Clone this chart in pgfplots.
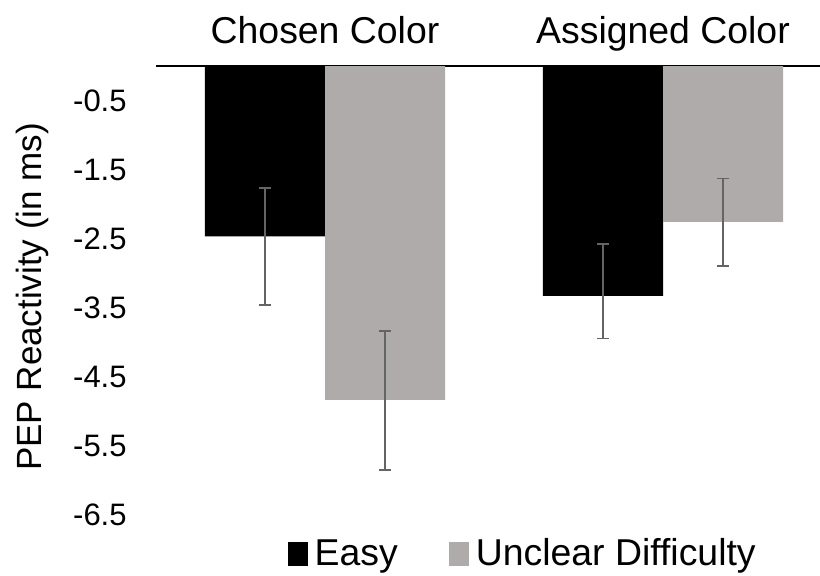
\documentclass[border=0pt]{standalone}
\usepackage{pgfplots}
\pgfplotsset{compat=1.18}
\usepackage{fontspec}
\setmainfont{Liberation Sans}
\definecolor{bargray}{RGB}{175,171,171}
\definecolor{errcol}{RGB}{100,100,100}
\newcommand{\tickfont}{\fontsize{15.5pt}{18pt}\selectfont}
\newcommand{\catfont}{\fontsize{18.7pt}{22pt}\selectfont}
\newcommand{\labfont}{\fontsize{17.5pt}{21pt}\selectfont}
\begin{document}
\begin{tikzpicture}
\useasboundingbox (0,0) rectangle (410pt,288pt);
\begin{axis}[
  at={(78pt,13.5pt)}, anchor=south west,
  scale only axis, width=332pt, height=241.5pt,
  xmin=-0.5, xmax=1.4645, ymin=-7, ymax=0,
  axis x line*=top, axis y line*=left,
  x axis line style={-, black, line width=1pt},
  y axis line style={draw=none},
  xtick={0,1}, xticklabels={Chosen Color, Assigned Color},
  ytick={-0.5,-1.5,-2.5,-3.5,-4.5,-5.5,-6.5},
  yticklabels={-0.5,-1.5,-2.5,-3.5,-4.5,-5.5,-6.5},
  major tick length=0pt,
  xticklabel style={font=\catfont, anchor=base, inner sep=0pt},
  xticklabel shift=11.5pt,
  yticklabel style={font=\tickfont, inner sep=0pt, anchor=east},
  yticklabel shift=14.5pt,
  ylabel={PEP Reactivity (in ms)},
  every axis y label/.style={at={(axis description cs:-0.186,0.522)}, rotate=90, anchor=center, font=\labfont},
  ybar, bar width=60pt,
  legend columns=2,
  legend cell align=left,
  legend style={at={(axis description cs:0.556,-0.01)}, anchor=center, draw=none, fill=none, font=\catfont,
    nodes={inner xsep=3.5pt},
    /tikz/every even column/.append style={column sep=22pt}},
  legend image code/.code={\fill (0pt,-6pt) rectangle (10pt,6pt);},
  error bars/y dir=both, error bars/y explicit,
  error bars/error bar style={draw=errcol, line width=0.9pt},
  error bars/error mark options={draw=errcol, line width=0.9pt, mark size=3pt, rotate=90},
]
\addplot[fill=black, draw=none, bar shift=-30pt]
  coordinates {(0,-2.47) += (0,0.70) -= (0,0.99)
               (1,-3.33) += (0,0.75) -= (0,0.62)};
\addlegendentry{Easy}
\addplot[fill=bargray, draw=none, bar shift=30pt]
  coordinates {(0,-4.84) += (0,1.00) -= (0,1.01)
               (1,-2.26) += (0,0.63) -= (0,0.64)};
\addlegendentry{Unclear Difficulty}
\end{axis}
\end{tikzpicture}
\end{document}
